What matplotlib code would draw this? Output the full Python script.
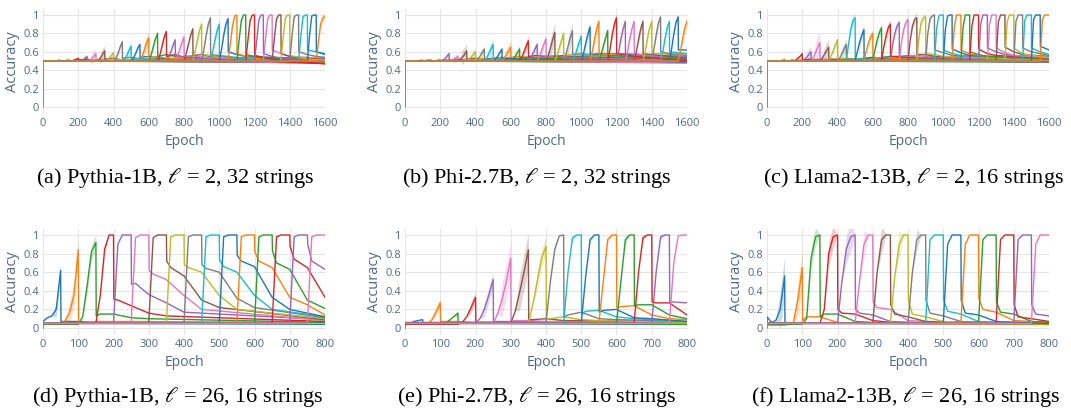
import numpy as np
import matplotlib
matplotlib.use("Agg")
import matplotlib.pyplot as plt

# colour order used in the source figure (pink before brown, olive before gray)
PALETTE = ["#1f77b4", "#ff7f0e", "#2ca02c", "#d62728", "#9467bd",
           "#e377c2", "#8c564b", "#bcbd22", "#7f7f7f", "#17becf"]
TICK_C, GRID_C = "#506784", "#e6e6e6"

# accuracy read at 0, 1/4, 1/2, 3/4 and the end of each string's 50-epoch window
FRAC = [0, 0.25, 0.5, 0.75, 1.0]
# after the window: top row read at +1, +1 window, +2 windows, then last epoch;
# bottom row read at +1, +1/4 window, +1, +2, +3 windows, then last epoch
POST_TOP = [0.02, 1, 2]
POST_BOT = [0.02, 0.25, 1, 2, 3]

# ---- (a) Pythia-1B, l=2, 32 strings
a_rise = [
    [0.5, 0.5, 0.5, 0.5, 0.5], [0.5, 0.5, 0.5, 0.51, 0.51], [0.5, 0.5, 0.5, 0.51, 0.51],
    [0.5, 0.5, 0.51, 0.52, 0.53], [0.5, 0.5, 0.51, 0.53, 0.55], [0.5, 0.51, 0.52, 0.55, 0.58],
    [0.5, 0.51, 0.53, 0.57, 0.61], [0.5, 0.51, 0.53, 0.56, 0.59], [0.5, 0.53, 0.58, 0.65, 0.71],
    [0.5, 0.52, 0.56, 0.61, 0.66], [0.5, 0.53, 0.58, 0.64, 0.68], [0.5, 0.55, 0.62, 0.7, 0.75],
    [0.5, 0.56, 0.65, 0.74, 0.8], [0.5, 0.56, 0.66, 0.76, 0.82], [0.5, 0.54, 0.6, 0.67, 0.73],
    [0.5, 0.55, 0.62, 0.7, 0.76], [0.5, 0.58, 0.68, 0.78, 0.85], [0.5, 0.6, 0.72, 0.83, 0.9],
    [0.5, 0.62, 0.77, 0.9, 0.97], [0.5, 0.6, 0.72, 0.83, 0.9], [0.5, 0.62, 0.78, 0.9, 0.96],
    [0.5, 0.68, 0.88, 0.99, 1.0], [0.5, 0.72, 0.94, 1.0, 1.0], [0.5, 0.72, 0.94, 1.0, 1.0],
    [0.5, 0.72, 0.95, 1.0, 1.0], [0.5, 0.74, 0.96, 1.0, 1.0], [0.5, 0.74, 0.96, 1.0, 1.0],
    [0.5, 0.75, 0.97, 1.0, 1.0], [0.5, 0.76, 0.98, 1.0, 1.0], [0.5, 0.76, 0.98, 1.0, 1.0],
    [0.5, 0.78, 0.99, 1.0, 1.0], [0.5, 0.7, 0.9, 0.97, 0.98],
]
a_post = [
    [0.5, 0.5, 0.5, 0.49], [0.5, 0.5, 0.5, 0.49], [0.5, 0.51, 0.5, 0.48], [0.51, 0.52, 0.5, 0.49],
    [0.5, 0.51, 0.5, 0.48], [0.51, 0.52, 0.5, 0.49], [0.52, 0.53, 0.51, 0.5], [0.5, 0.52, 0.51, 0.49],
    [0.53, 0.54, 0.52, 0.5], [0.52, 0.53, 0.52, 0.5], [0.54, 0.55, 0.53, 0.49], [0.53, 0.55, 0.53, 0.48],
    [0.55, 0.57, 0.55, 0.5], [0.55, 0.57, 0.54, 0.47], [0.54, 0.55, 0.53, 0.49], [0.55, 0.56, 0.54, 0.5],
    [0.56, 0.57, 0.55, 0.5], [0.57, 0.56, 0.54, 0.51], [0.57, 0.56, 0.54, 0.5], [0.56, 0.55, 0.53, 0.5],
    [0.6, 0.57, 0.55, 0.52], [0.58, 0.55, 0.53, 0.49], [0.57, 0.55, 0.53, 0.5], [0.56, 0.54, 0.52, 0.47],
    [0.58, 0.55, 0.53, 0.5], [0.62, 0.58, 0.55, 0.53], [0.58, 0.55, 0.53, 0.52], [0.56, 0.54, 0.52, 0.51],
    [0.6, 0.57, 0.55, 0.54], [0.62, 0.6, 0.58, 0.58], [0.6, 0.57, 0.57, 0.57], [0.5, 0.5, 0.5, 0.5],
]
a_sd = [0, 0, 0, 0.01, 0.02, 0.06, 0.06, 0.02, 0.03, 0.06, 0.02, 0.07, 0.03, 0.03, 0.03, 0.05,
        0.03, 0.05, 0.03, 0.04, 0.04, 0.02, 0.02, 0.02, 0.02, 0.02, 0.02, 0.02, 0.02, 0.02, 0.02, 0.04]

# ---- (b) Phi-2.7B, l=2, 32 strings
b_rise = [
    [0.5, 0.5, 0.5, 0.5, 0.5], [0.5, 0.5, 0.5, 0.51, 0.51], [0.5, 0.5, 0.51, 0.51, 0.51],
    [0.5, 0.5, 0.5, 0.51, 0.51], [0.5, 0.51, 0.52, 0.55, 0.58], [0.5, 0.51, 0.52, 0.53, 0.55],
    [0.5, 0.52, 0.54, 0.57, 0.61], [0.5, 0.52, 0.54, 0.57, 0.6], [0.5, 0.52, 0.55, 0.59, 0.63],
    [0.5, 0.53, 0.58, 0.63, 0.68], [0.5, 0.52, 0.55, 0.59, 0.63], [0.5, 0.53, 0.57, 0.61, 0.65],
    [0.5, 0.52, 0.55, 0.59, 0.63], [0.5, 0.54, 0.6, 0.66, 0.72], [0.5, 0.53, 0.58, 0.63, 0.68],
    [0.5, 0.55, 0.61, 0.68, 0.74], [0.5, 0.56, 0.64, 0.73, 0.81], [0.5, 0.56, 0.64, 0.72, 0.8],
    [0.5, 0.57, 0.66, 0.75, 0.83], [0.5, 0.55, 0.62, 0.7, 0.77], [0.5, 0.58, 0.69, 0.79, 0.87],
    [0.5, 0.6, 0.73, 0.85, 0.93], [0.5, 0.57, 0.66, 0.75, 0.83], [0.5, 0.62, 0.78, 0.9, 0.97],
    [0.5, 0.6, 0.74, 0.85, 0.93], [0.5, 0.6, 0.74, 0.85, 0.93], [0.5, 0.6, 0.73, 0.85, 0.93],
    [0.5, 0.6, 0.74, 0.86, 0.93], [0.5, 0.63, 0.78, 0.91, 0.98], [0.5, 0.6, 0.74, 0.86, 0.93],
    [0.5, 0.63, 0.79, 0.92, 0.98], [0.5, 0.6, 0.74, 0.86, 0.93],
]
b_post = [
    [0.5, 0.5, 0.5, 0.49], [0.5, 0.5, 0.5, 0.5], [0.5, 0.5, 0.5, 0.48], [0.5, 0.51, 0.5, 0.49],
    [0.51, 0.52, 0.51, 0.49], [0.5, 0.51, 0.5, 0.48], [0.52, 0.53, 0.52, 0.5], [0.52, 0.53, 0.52, 0.5],
    [0.52, 0.53, 0.52, 0.49], [0.53, 0.54, 0.53, 0.5], [0.52, 0.53, 0.52, 0.49], [0.54, 0.55, 0.54, 0.51],
    [0.53, 0.54, 0.53, 0.5], [0.55, 0.56, 0.55, 0.52], [0.54, 0.55, 0.54, 0.5], [0.55, 0.56, 0.55, 0.51],
    [0.55, 0.56, 0.55, 0.52], [0.56, 0.57, 0.56, 0.53], [0.57, 0.58, 0.57, 0.54], [0.56, 0.57, 0.56, 0.53],
    [0.57, 0.58, 0.58, 0.55], [0.57, 0.58, 0.57, 0.53], [0.55, 0.56, 0.55, 0.52], [0.58, 0.57, 0.55, 0.5],
    [0.58, 0.57, 0.56, 0.53], [0.58, 0.57, 0.56, 0.54], [0.58, 0.57, 0.56, 0.53], [0.58, 0.58, 0.57, 0.58],
    [0.6, 0.58, 0.57, 0.56], [0.6, 0.59, 0.58, 0.58], [0.62, 0.62, 0.62, 0.62], [0.5, 0.5, 0.5, 0.5],
]
b_sd = [0, 0, 0, 0, 0.03, 0.04, 0.08, 0.05, 0.04, 0.07, 0.02, 0.07, 0.04, 0.06, 0.05, 0.05,
        0.1, 0.05, 0.09, 0.05, 0.06, 0.06, 0.04, 0.05, 0.04, 0.04, 0.04, 0.04, 0.04, 0.04, 0.02, 0.06]

# ---- (c) Llama2-13B, l=2, 16 strings
c_rise = [
    [0.5, 0.5, 0.5, 0.5, 0.5], [0.5, 0.5, 0.5, 0.51, 0.52], [0.5, 0.5, 0.5, 0.51, 0.51],
    [0.5, 0.51, 0.53, 0.55, 0.58], [0.5, 0.52, 0.54, 0.57, 0.6], [0.5, 0.54, 0.59, 0.65, 0.7],
    [0.5, 0.53, 0.57, 0.61, 0.65], [0.5, 0.55, 0.61, 0.67, 0.73], [0.5, 0.53, 0.58, 0.63, 0.68],
    [0.5, 0.68, 0.84, 0.94, 0.97], [0.5, 0.6, 0.7, 0.78, 0.84], [0.5, 0.6, 0.69, 0.76, 0.8],
    [0.5, 0.62, 0.73, 0.81, 0.86], [0.5, 0.65, 0.77, 0.86, 0.9], [0.5, 0.67, 0.8, 0.88, 0.92],
    [0.5, 0.7, 0.84, 0.92, 0.95], [0.5, 0.72, 0.88, 0.95, 0.97], [0.5, 0.76, 0.92, 0.97, 0.98],
    [0.5, 0.8, 0.96, 0.99, 1.0], [0.5, 0.85, 0.99, 1.0, 1.0], [0.5, 0.85, 0.99, 1.0, 1.0],
    [0.5, 0.86, 1.0, 1.0, 1.0], [0.5, 0.87, 1.0, 1.0, 1.0], [0.5, 0.88, 1.0, 1.0, 1.0],
    [0.5, 0.9, 1.0, 1.0, 1.0], [0.5, 0.9, 1.0, 1.0, 1.0], [0.5, 0.92, 1.0, 1.0, 1.0],
    [0.5, 0.92, 1.0, 1.0, 1.0], [0.5, 0.93, 1.0, 1.0, 1.0], [0.5, 0.94, 1.0, 1.0, 1.0],
    [0.5, 0.95, 1.0, 1.0, 1.0], [0.5, 0.95, 1.0, 1.0, 1.0],
]
c_post = [
    [0.5, 0.5, 0.5, 0.49], [0.5, 0.5, 0.5, 0.5], [0.5, 0.51, 0.5, 0.49], [0.51, 0.52, 0.51, 0.5],
    [0.51, 0.52, 0.51, 0.49], [0.52, 0.52, 0.51, 0.5], [0.52, 0.52, 0.51, 0.49], [0.52, 0.53, 0.52, 0.5],
    [0.52, 0.52, 0.51, 0.49], [0.52, 0.53, 0.52, 0.5], [0.53, 0.54, 0.53, 0.5], [0.53, 0.54, 0.53, 0.51],
    [0.54, 0.55, 0.54, 0.5], [0.55, 0.55, 0.54, 0.51], [0.55, 0.56, 0.54, 0.5], [0.56, 0.56, 0.55, 0.51],
    [0.57, 0.57, 0.55, 0.52], [0.58, 0.57, 0.55, 0.51], [0.62, 0.59, 0.56, 0.52], [0.62, 0.58, 0.56, 0.51],
    [0.63, 0.59, 0.56, 0.52], [0.62, 0.58, 0.56, 0.51], [0.6, 0.57, 0.55, 0.52], [0.63, 0.58, 0.56, 0.53],
    [0.64, 0.6, 0.57, 0.53], [0.64, 0.59, 0.56, 0.54], [0.65, 0.6, 0.57, 0.55], [0.64, 0.58, 0.56, 0.54],
    [0.64, 0.6, 0.58, 0.56], [0.64, 0.6, 0.57, 0.57], [0.66, 0.62, 0.62, 0.62], [0.5, 0.5, 0.5, 0.5],
]
c_sd = [0, 0, 0.01, 0.02, 0.06, 0.12, 0.08, 0.04, 0.07, 0.05, 0.05, 0.04, 0.05, 0.05, 0.04, 0.04,
        0.05, 0.04, 0.03, 0.04, 0.04, 0.04, 0.03, 0.03, 0.02, 0.02, 0.02, 0.02, 0.02, 0.02, 0.02, 0.02]

# ---- (d) Pythia-1B, l=26, 16 strings
d_rise = [
    [0.07, 0.11, 0.13, 0.2, 0.62], [0.04, 0.08, 0.16, 0.35, 0.84], [0.04, 0.12, 0.45, 0.82, 0.92],
    [0.05, 0.35, 0.85, 1.0, 1.0], [0.05, 0.9, 1.0, 1.0, 1.0], [0.05, 0.97, 1.0, 1.0, 1.0],
    [0.05, 0.97, 1.0, 1.0, 1.0], [0.05, 0.98, 1.0, 1.0, 1.0], [0.05, 0.98, 1.0, 1.0, 1.0],
    [0.05, 0.98, 1.0, 1.0, 1.0], [0.05, 0.98, 1.0, 1.0, 1.0], [0.05, 0.98, 1.0, 1.0, 1.0],
    [0.05, 0.98, 1.0, 1.0, 1.0], [0.05, 0.98, 1.0, 1.0, 1.0], [0.05, 0.98, 1.0, 1.0, 1.0],
    [0.05, 0.98, 1.0, 1.0, 1.0],
]
d_post = [
    [0.07, 0.07, 0.07, 0.06, 0.05, 0.04], [0.05, 0.06, 0.07, 0.07, 0.07, 0.06],
    [0.13, 0.15, 0.15, 0.11, 0.1, 0.06], [0.31, 0.3, 0.24, 0.16, 0.13, 0.07],
    [0.47, 0.48, 0.36, 0.27, 0.17, 0.09], [0.62, 0.58, 0.52, 0.35, 0.2, 0.08],
    [0.72, 0.65, 0.56, 0.3, 0.22, 0.09], [0.68, 0.65, 0.6, 0.35, 0.2, 0.1],
    [0.68, 0.64, 0.6, 0.32, 0.22, 0.11], [0.73, 0.66, 0.6, 0.35, 0.2, 0.12],
    [0.78, 0.72, 0.66, 0.33, 0.2, 0.12], [0.82, 0.72, 0.65, 0.33, 0.25, 0.14],
    [0.83, 0.7, 0.63, 0.3, 0.21, 0.21], [0.88, 0.74, 0.65, 0.33, 0.33, 0.33],
    [0.9, 0.72, 0.63, 0.63, 0.63, 0.63], [0.05, 0.05, 0.05, 0.05, 0.05, 0.05],
]
d_sd = [0.08, 0.12, 0.08, 0.04, 0.03, 0.02, 0.02, 0.02, 0.02, 0.02, 0.02, 0.02, 0.02, 0.02, 0.02, 0.02]

# ---- (e) Phi-2.7B, l=26, 16 strings
e_rise = [
    [0.03, 0.05, 0.07, 0.08, 0.09], [0.04, 0.05, 0.08, 0.17, 0.27], [0.04, 0.05, 0.08, 0.12, 0.16],
    [0.04, 0.06, 0.12, 0.22, 0.33], [0.05, 0.1, 0.2, 0.35, 0.52], [0.05, 0.15, 0.3, 0.5, 0.75],
    [0.05, 0.18, 0.38, 0.6, 0.84], [0.05, 0.25, 0.5, 0.75, 0.88], [0.06, 0.5, 0.85, 0.99, 1.0],
    [0.05, 0.6, 0.97, 1.0, 1.0], [0.05, 0.55, 0.95, 1.0, 1.0], [0.05, 0.5, 0.95, 1.0, 1.0],
    [0.05, 0.5, 0.95, 1.0, 1.0], [0.05, 0.6, 0.97, 1.0, 1.0], [0.05, 0.6, 0.98, 1.0, 1.0],
    [0.05, 0.7, 0.99, 1.0, 1.0],
]
e_post = [
    [0.05, 0.05, 0.05, 0.05, 0.05, 0.04], [0.07, 0.07, 0.07, 0.06, 0.06, 0.05],
    [0.05, 0.05, 0.05, 0.05, 0.05, 0.04], [0.06, 0.06, 0.06, 0.06, 0.06, 0.05],
    [0.07, 0.07, 0.07, 0.07, 0.06, 0.05], [0.07, 0.08, 0.08, 0.07, 0.07, 0.05],
    [0.09, 0.09, 0.1, 0.08, 0.08, 0.06], [0.1, 0.1, 0.12, 0.09, 0.08, 0.06],
    [0.12, 0.14, 0.17, 0.1, 0.09, 0.07], [0.15, 0.18, 0.19, 0.12, 0.1, 0.07],
    [0.17, 0.19, 0.2, 0.11, 0.1, 0.07], [0.22, 0.23, 0.24, 0.14, 0.1, 0.09],
    [0.24, 0.25, 0.25, 0.14, 0.1, 0.1], [0.28, 0.27, 0.27, 0.14, 0.14, 0.14],
    [0.28, 0.28, 0.27, 0.27, 0.27, 0.27], [0.05, 0.05, 0.05, 0.05, 0.05, 0.05],
]
e_sd = [0.01, 0.05, 0.04, 0.06, 0.08, 0.18, 0.19, 0.1, 0.03, 0.03, 0.03, 0.03, 0.05, 0.03, 0.04, 0.03]

# ---- (f) Llama2-13B, l=26, 16 strings
f_rise = [
    [0.12, 0.06, 0.08, 0.2, 0.56], [0.03, 0.04, 0.06, 0.3, 0.65], [0.04, 0.1, 0.75, 0.98, 1.0],
    [0.05, 0.2, 0.8, 0.98, 1.0], [0.05, 0.5, 0.85, 0.98, 1.0], [0.05, 0.5, 0.9, 1.0, 1.0],
    [0.05, 0.6, 0.95, 1.0, 1.0], [0.05, 0.55, 0.9, 1.0, 1.0], [0.05, 0.6, 0.95, 1.0, 1.0],
    [0.05, 0.95, 1.0, 1.0, 1.0], [0.05, 0.9, 1.0, 1.0, 1.0], [0.05, 0.9, 1.0, 1.0, 1.0],
    [0.05, 0.95, 1.0, 1.0, 1.0], [0.05, 0.95, 1.0, 1.0, 1.0], [0.05, 0.95, 1.0, 1.0, 1.0],
    [0.05, 0.9, 1.0, 1.0, 1.0],
]
f_post = [
    [0.05, 0.05, 0.06, 0.05, 0.05, 0.04], [0.08, 0.12, 0.12, 0.06, 0.05, 0.04],
    [0.12, 0.15, 0.15, 0.07, 0.06, 0.05], [0.2, 0.16, 0.15, 0.08, 0.06, 0.05],
    [0.2, 0.16, 0.14, 0.07, 0.06, 0.05], [0.28, 0.22, 0.2, 0.08, 0.07, 0.06],
    [0.25, 0.15, 0.12, 0.07, 0.06, 0.05], [0.3, 0.15, 0.12, 0.07, 0.06, 0.05],
    [0.3, 0.16, 0.13, 0.07, 0.06, 0.05], [0.3, 0.18, 0.15, 0.07, 0.06, 0.06],
    [0.3, 0.16, 0.14, 0.07, 0.06, 0.05], [0.32, 0.2, 0.17, 0.08, 0.07, 0.06],
    [0.28, 0.17, 0.15, 0.07, 0.06, 0.06], [0.25, 0.12, 0.1, 0.07, 0.07, 0.07],
    [0.25, 0.15, 0.13, 0.13, 0.13, 0.13], [0.05, 0.05, 0.05, 0.05, 0.05, 0.05],
]
f_sd = [0.2, 0.18, 0.1, 0.12, 0.15, 0.15, 0.15, 0.15, 0.12, 0.05, 0.08, 0.08, 0.06, 0.05, 0.05, 0.05]

captions = [
    r"(a) Pythia-1B, $\ell$ = 2, 32 strings",
    r"(b) Phi-2.7B, $\ell$ = 2, 32 strings",
    r"(c) Llama2-13B, $\ell$ = 2, 16 strings",
    r"(d) Pythia-1B, $\ell$ = 26, 16 strings",
    r"(e) Phi-2.7B, $\ell$ = 26, 16 strings",
    r"(f) Llama2-13B, $\ell$ = 26, 16 strings",
]
panels = [
    (a_rise, a_post, a_sd, 1600, POST_TOP), (b_rise, b_post, b_sd, 1600, POST_TOP),
    (c_rise, c_post, c_sd, 1600, POST_TOP), (d_rise, d_post, d_sd, 800, POST_BOT),
    (e_rise, e_post, e_sd, 800, POST_BOT), (f_rise, f_post, f_sd, 800, POST_BOT),
]

plt.rcParams["font.family"] = ["Open Sans", "DejaVu Sans"]
plt.rcParams["mathtext.fontset"] = "stix"

W, H = 1071, 411
fig = plt.figure(figsize=(W / 100, H / 100), dpi=100)

# plot-area pixel boxes: x of epoch 0 / last epoch, y of acc 1 / acc 0
boxes = [(43, 325, 15, 107), (405, 687, 15, 107), (767, 1049, 15, 107),
         (43, 325, 235, 328), (405, 687, 235, 328), (767, 1049, 235, 328)]
YLO, YHI = -0.07, 1.06
cap_pos = [(175, 178), (537, 178), (913, 178), (178, 397), (537, 397), (906, 397)]


def draw(ax, rise, post, sd, end, offs):
    w = end / len(rise)
    for i, (r, p, s) in enumerate(zip(rise, post, sd)):
        color = PALETTE[i % 10]
        start, stop = i * w, (i + 1) * w
        xs = [0.0] + [start + f * w for f in FRAC]
        ys = [0.0 if i == 0 else r[0]] + list(r)
        if stop < end:
            for o, v in zip(offs, p[:-1]):
                if stop + o * w < end:
                    xs.append(stop + o * w)
                    ys.append(v)
            xs.append(end)
            ys.append(p[-1])
        bx = [start + f * w for f in FRAC]
        ry = np.array(r)
        bw = np.array([s if (f >= 0.5 and 0.15 < v < 0.99) else 0.0 for f, v in zip(FRAC, r)])
        ax.fill_between(bx, np.clip(ry - bw, 0, None), ry + bw, color=color, alpha=0.25, lw=0)
        ax.plot(xs, ys, color=color, lw=1.0)


for k, (rise, post, sd, end, offs) in enumerate(panels):
    x0, x1, y1, y0 = boxes[k]
    ppu = (y0 - y1)
    top_px = y1 - (YHI - 1) * ppu
    bot_px = y0 + (0 - YLO) * ppu
    ax = fig.add_axes([x0 / W, 1 - bot_px / H, (x1 - x0) / W, (bot_px - top_px) / H])
    draw(ax, rise, post, sd, end, offs)
    ax.set_xlim(0, end)
    ax.set_ylim(YLO, YHI)
    step = 200 if end == 1600 else 100
    ax.set_xticks(np.arange(0, end + 1, step))
    ax.set_yticks([0, 0.2, 0.4, 0.6, 0.8, 1.0])
    ax.set_yticklabels(["0", "0.2", "0.4", "0.6", "0.8", "1"])
    ax.grid(True, color=GRID_C, lw=0.8)
    ax.set_axisbelow(True)
    for sp in ax.spines.values():
        sp.set_visible(False)
    ax.tick_params(length=0, labelsize=8, colors=TICK_C, pad=3)
    ax.set_xlabel("Epoch", fontsize=10, color=TICK_C, labelpad=4)
    ax.set_ylabel("Accuracy", fontsize=10.5, color=TICK_C, labelpad=2)
    cx, cy = cap_pos[k]
    fig.text(cx / W, 1 - cy / H, captions[k], ha="center", va="center",
             fontsize=16, family="Liberation Serif")

fig.savefig("out.png", dpi=100)
